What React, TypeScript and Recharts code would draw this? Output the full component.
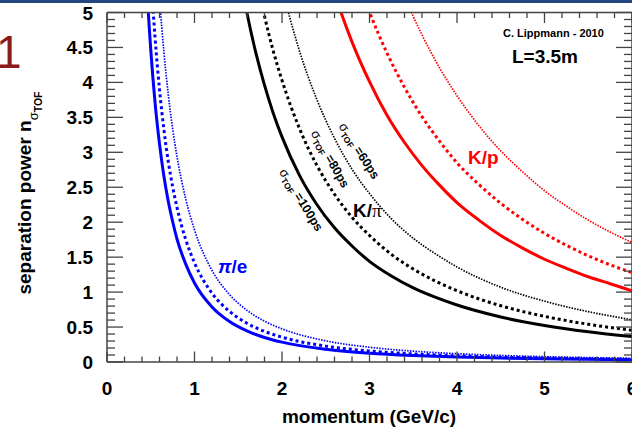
import { LineChart, Line, XAxis, YAxis } from "recharts";

const FONT = "'Liberation Sans', Arial, Helvetica, sans-serif";
const FRAME = "#444";
const BLUE = "#0000ff";
const RED = "#ff0000";
const BLACK = "#000000";

// momentum grids (GeV/c) per pair
const peP = [0.4, 0.45, 0.5, 0.55, 0.6, 0.65, 0.7, 0.75, 0.8, 0.9, 1.0, 1.2, 1.4, 1.6, 1.8, 2.0, 2.5, 3.0, 3.5, 4.0, 4.5, 5.0, 5.5, 6.0];
const kpiP = [1.4, 1.5, 1.6, 1.7, 1.8, 1.9, 2.0, 2.2, 2.4, 2.6, 2.8, 3.0, 3.25, 3.5, 3.75, 4.0, 4.5, 5.0, 5.5, 6.0];
const kpP = [2.4, 2.6, 2.8, 3.0, 3.2, 3.4, 3.6, 3.8, 4.0, 4.25, 4.5, 4.75, 5.0, 5.25, 5.5, 5.75, 6.0];

// separation power, pi/e
const pe100 = [6.91, 5.49, 4.47, 3.7, 3.12, 2.66, 2.3, 2.01, 1.76, 1.4, 1.13, 0.787, 0.579, 0.444, 0.351, 0.284, 0.182, 0.126, 0.093, 0.071, 0.056, 0.046, 0.038, 0.032];
const pe80 = [8.63, 6.86, 5.58, 4.63, 3.9, 3.33, 2.87, 2.51, 2.21, 1.75, 1.42, 0.984, 0.724, 0.554, 0.438, 0.355, 0.227, 0.158, 0.116, 0.089, 0.07, 0.057, 0.047, 0.04];
const pe60 = [11.51, 9.15, 7.44, 6.17, 5.2, 4.44, 3.83, 3.34, 2.94, 2.33, 1.89, 1.31, 0.965, 0.739, 0.584, 0.474, 0.303, 0.211, 0.155, 0.119, 0.094, 0.076, 0.063, 0.053];

// K/pi
const kpi100 = [6.47, 5.66, 4.99, 4.43, 3.96, 3.56, 3.22, 2.67, 2.25, 1.92, 1.66, 1.44, 1.23, 1.06, 0.927, 0.815, 0.644, 0.522, 0.432, 0.363];
const kpi80 = [8.09, 7.07, 6.24, 5.54, 4.95, 4.45, 4.03, 3.34, 2.81, 2.4, 2.07, 1.81, 1.54, 1.33, 1.16, 1.02, 0.805, 0.653, 0.54, 0.454];
const kpi60 = [10.78, 9.43, 8.31, 7.39, 6.6, 5.94, 5.37, 4.45, 3.75, 3.2, 2.76, 2.41, 2.05, 1.77, 1.55, 1.36, 1.07, 0.87, 0.72, 0.605];

// K/p
const kp100 = [6.16, 5.28, 4.58, 4.01, 3.53, 3.14, 2.81, 2.53, 2.28, 2.03, 1.81, 1.63, 1.47, 1.34, 1.22, 1.12, 1.02];
const kp80 = [7.7, 6.61, 5.73, 5.01, 4.42, 3.93, 3.51, 3.16, 2.85, 2.54, 2.27, 2.04, 1.84, 1.67, 1.52, 1.39, 1.28];
const kp60 = [10.27, 8.81, 7.63, 6.68, 5.89, 5.23, 4.68, 4.21, 3.81, 3.38, 3.02, 2.72, 2.45, 2.23, 2.03, 1.86, 1.71];

// axis ticks (minor + major)
const xTicks = [0, 0.2, 0.4, 0.6, 0.8, 1, 1.2, 1.4, 1.6, 1.8, 2, 2.2, 2.4, 2.6, 2.8, 3, 3.2, 3.4, 3.6, 3.8, 4, 4.2, 4.4, 4.6, 4.8, 5, 5.2, 5.4, 5.6, 5.8, 6];
const yTicks = [0, 0.1, 0.2, 0.3, 0.4, 0.5, 0.6, 0.7, 0.8, 0.9, 1, 1.1, 1.2, 1.3, 1.4, 1.5, 1.6, 1.7, 1.8, 1.9, 2, 2.1, 2.2, 2.3, 2.4, 2.5, 2.6, 2.7, 2.8, 2.9, 3, 3.1, 3.2, 3.3, 3.4, 3.5, 3.6, 3.7, 3.8, 3.9, 4, 4.1, 4.2, 4.3, 4.4, 4.5, 4.6, 4.7, 4.8, 4.9, 5];
const xLabels = [0, 1, 2, 3, 4, 5, 6];
const yLabels = [0, 0.5, 1, 1.5, 2, 2.5, 3, 3.5, 4, 4.5, 5];

const toPoints = (p: number[], n: number[]) => p.map((x, i) => ({ x, y: n[i] }));

const curves = [
  { id: "pe100", p: peP, n: pe100, color: BLUE, kind: "solid" },
  { id: "pe80", p: peP, n: pe80, color: BLUE, kind: "dashed" },
  { id: "pe60", p: peP, n: pe60, color: BLUE, kind: "dotted" },
  { id: "kpi100", p: kpiP, n: kpi100, color: BLACK, kind: "solid" },
  { id: "kpi80", p: kpiP, n: kpi80, color: BLACK, kind: "dashed" },
  { id: "kpi60", p: kpiP, n: kpi60, color: BLACK, kind: "dotted" },
  { id: "kp100", p: kpP, n: kp100, color: RED, kind: "solid" },
  { id: "kp80", p: kpP, n: kp80, color: RED, kind: "dashed" },
  { id: "kp60", p: kpP, n: kp60, color: RED, kind: "dotted" },
];

const lineStyle = (kind: string) => {
  if (kind === "dashed") return { strokeWidth: 3, strokeDasharray: "3 3" };
  if (kind === "dotted") return { strokeWidth: 1.7, strokeDasharray: "1.5 1.3" };
  return { strokeWidth: 3, strokeDasharray: undefined };
};

const isX = (v: number) => xLabels.some((l) => Math.abs(l - v) < 1e-6);
const isY = (v: number) => yLabels.some((l) => Math.abs(l - v) < 1e-6);

const BottomTick = (props: any) => {
  const { x, y, payload } = props;
  const major = isX(payload.value);
  return (
    <g>
      <line x1={x} y1={y} x2={x} y2={y - (major ? 10.5 : 5.5)} stroke={FRAME} strokeWidth={1.3} />
      {major && (
        <text x={x} y={y + 33} textAnchor="middle" fontFamily={FONT} fontWeight="bold" fontSize={19} fill="#000">
          {payload.value}
        </text>
      )}
    </g>
  );
};

const TopTick = (props: any) => {
  const { x, y, payload } = props;
  const major = isX(payload.value);
  return <line x1={x} y1={y} x2={x} y2={y + (major ? 10.5 : 5.5)} stroke={FRAME} strokeWidth={1.3} />;
};

const LeftTick = (props: any) => {
  const { x, y, payload } = props;
  const major = isY(payload.value);
  return (
    <g>
      <line x1={x} y1={y} x2={x + (major ? 16 : 8)} y2={y} stroke={FRAME} strokeWidth={1.3} />
      {major && (
        <text x={x - 14} y={y + 7} textAnchor="end" fontFamily={FONT} fontWeight="bold" fontSize={19} fill="#000">
          {payload.value}
        </text>
      )}
    </g>
  );
};

const RightTick = (props: any) => {
  const { x, y, payload } = props;
  const major = isY(payload.value);
  return <line x1={x} y1={y} x2={x - (major ? 16 : 8)} y2={y} stroke={FRAME} strokeWidth={1.3} />;
};

const SigmaLabel = ({ cx, cy, angle, text }: { cx: number; cy: number; angle: number; text: string }) => (
  <text
    x={cx}
    y={cy + 4}
    textAnchor="middle"
    transform={`rotate(${angle}, ${cx}, ${cy})`}
    fontFamily={FONT}
    fill="#000"
  >
    <tspan fontSize={13}>σ</tspan>
    <tspan fontSize={8.5} fontWeight="bold" dy={3}>TOF</tspan>
    <tspan fontSize={12.5} fontWeight="bold" dy={-3}>{" " + text}</tspan>
  </text>
);

export default function App() {
  const axisLine = { stroke: FRAME, strokeWidth: 1.5 };
  return (
    <div style={{ position: "absolute", left: 0, top: 0, width: 632, height: 429, overflow: "hidden", background: "#fff" }}>
      <div style={{ position: "absolute", left: 0, top: 0, width: 632, height: 3, background: "#24467f" }} />
      <LineChart width={640} height={429} margin={{ top: 11.5, right: 7, bottom: 0, left: 0 }}>
        <XAxis
          xAxisId="bottom"
          dataKey="x"
          type="number"
          domain={[0, 6]}
          allowDataOverflow
          ticks={xTicks}
          interval={0}
          height={67}
          tickSize={0}
          tickMargin={0}
          tickLine={false}
          axisLine={axisLine}
          tick={<BottomTick />}
        />
        <XAxis
          xAxisId="top"
          orientation="top"
          dataKey="x"
          type="number"
          domain={[0, 6]}
          allowDataOverflow
          ticks={xTicks}
          interval={0}
          height={1}
          tickSize={0}
          tickMargin={0}
          tickLine={false}
          axisLine={axisLine}
          tick={<TopTick />}
        />
        <YAxis
          yAxisId="left"
          type="number"
          domain={[0, 5]}
          allowDataOverflow
          ticks={yTicks}
          interval={0}
          width={107}
          tickSize={0}
          tickMargin={0}
          tickLine={false}
          axisLine={axisLine}
          tick={<LeftTick />}
        />
        <YAxis
          yAxisId="right"
          orientation="right"
          type="number"
          domain={[0, 5]}
          allowDataOverflow
          ticks={yTicks}
          interval={0}
          width={1}
          tickSize={0}
          tickMargin={0}
          tickLine={false}
          axisLine={axisLine}
          tick={<RightTick />}
        />
        {curves.map((c) => {
          const s = lineStyle(c.kind);
          return (
            <Line
              key={c.id}
              xAxisId="bottom"
              yAxisId="left"
              data={toPoints(c.p, c.n)}
              dataKey="y"
              type="monotone"
              stroke={c.color}
              strokeWidth={s.strokeWidth}
              strokeDasharray={s.strokeDasharray}
              dot={false}
              activeDot={false}
              isAnimationActive={false}
            />
          );
        })}
      </LineChart>
      <svg width={632} height={429} style={{ position: "absolute", left: 0, top: 0, pointerEvents: "none" }}>
        <text x={-4} y={68} fontFamily={FONT} fontSize={46} fill="#8b1a1a">1</text>
        <text
          x={30.5}
          y={193}
          textAnchor="middle"
          transform="rotate(-90, 30.5, 193)"
          fontFamily={FONT}
          fontWeight="bold"
          fill="#000"
        >
          <tspan fontSize={19}>separation power n</tspan>
          <tspan fontSize={13} fontWeight="normal" dy={7}>σ</tspan>
          <tspan fontSize={10.5} dy={4}>TOF</tspan>
        </text>
        <text x={369} y={423} textAnchor="middle" fontFamily={FONT} fontWeight="bold" fontSize={19} fill="#000">
          momentum (GeV/c)
        </text>
        <text x={503} y={37} fontFamily={FONT} fontWeight="bold" fontSize={11} fill="#000">C. Lippmann - 2010</text>
        <text x={512} y={63} fontFamily={FONT} fontWeight="bold" fontSize={19} fill="#000">L=3.5m</text>
        <text x={218} y={273} fontFamily={FONT} fontWeight="bold" fontSize={19} fill={BLUE}>
          <tspan fontStyle="italic">π</tspan>/e
        </text>
        <text x={353} y={217} fontFamily={FONT} fontWeight="bold" fontSize={19} fill="#000">
          K/<tspan fontFamily="'Liberation Serif', 'DejaVu Serif', serif" fontWeight="normal">π</tspan>
        </text>
        <text x={468} y={164} fontFamily={FONT} fontWeight="bold" fontSize={19} fill={RED}>K/p</text>
        <SigmaLabel cx={301} cy={200} angle={58} text="=100ps" />
        <SigmaLabel cx={330} cy={159} angle={60} text="=80ps" />
        <SigmaLabel cx={359} cy={151} angle={57} text="=60ps" />
      </svg>
    </div>
  );
}
